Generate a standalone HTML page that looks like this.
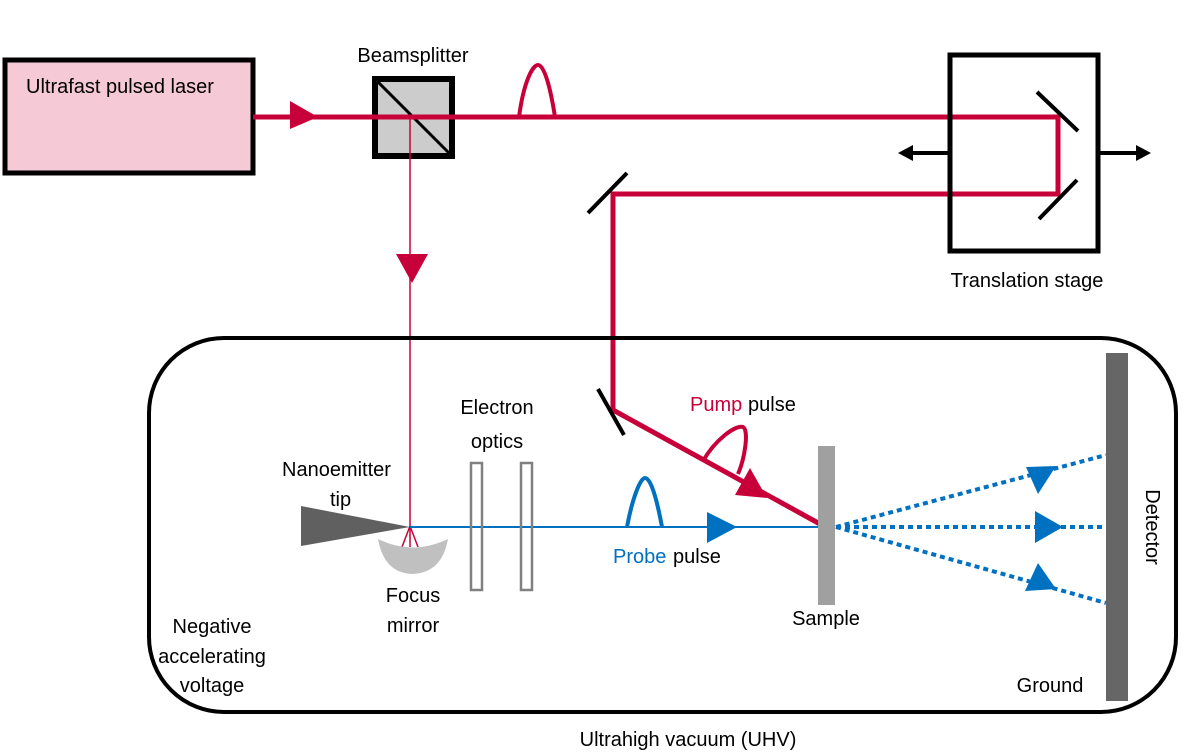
<!DOCTYPE html>
<html><head><meta charset="utf-8"><style>
html,body{margin:0;padding:0;background:#fff;}
svg{display:block;}
text{font-family:"Liberation Sans",sans-serif;font-size:20px;fill:#000;}
</style></head><body>
<svg width="1185" height="753" viewBox="0 0 1185 753" xmlns="http://www.w3.org/2000/svg">
<rect x="5" y="60" width="248" height="113" fill="#F5C9D6" stroke="#000" stroke-width="5"/>
<text x="26" y="93">Ultrafast pulsed laser</text>
<text x="413" y="62" text-anchor="middle">Beamsplitter</text>
<rect x="375" y="79" width="77" height="77" fill="#CCCCCC" stroke="#000" stroke-width="6"/>
<line x1="378" y1="82" x2="449" y2="153" stroke="#000" stroke-width="3"/>
<polyline points="253,117 1058,117 1058,194 613,194 613,410 820,524" fill="none" stroke="#C8003A" stroke-width="5"/>
<polygon points="290,101 290,129 318,117" fill="#C8003A"/>
<path d="M519,117 C524,80 533,65 538,65 C544,65 550,85 555,117" fill="none" stroke="#C8003A" stroke-width="4"/>
<line x1="410" y1="117" x2="410" y2="526" stroke="#C8003A" stroke-width="1.5"/>
<polygon points="396,254 428,254 412,283" fill="#C8003A"/>
<line x1="410" y1="526" x2="402" y2="547" stroke="#C8003A" stroke-width="1.5"/>
<line x1="410" y1="526" x2="418" y2="547" stroke="#C8003A" stroke-width="1.5"/>
<line x1="410" y1="526" x2="410" y2="547" stroke="#C8003A" stroke-width="1.5"/>
<rect x="950" y="55" width="148" height="196" fill="none" stroke="#000" stroke-width="5"/>
<line x1="1037" y1="92" x2="1078" y2="131" stroke="#000" stroke-width="4"/>
<line x1="1077" y1="180" x2="1039" y2="219" stroke="#000" stroke-width="4"/>
<line x1="948" y1="153" x2="910" y2="153" stroke="#000" stroke-width="4"/>
<polygon points="898,153 913,145 913,161" fill="#000"/>
<line x1="1100" y1="153" x2="1140" y2="153" stroke="#000" stroke-width="4"/>
<polygon points="1151,153 1136,145 1136,161" fill="#000"/>
<text x="1027" y="287" text-anchor="middle">Translation stage</text>
<line x1="627" y1="173" x2="588" y2="213" stroke="#000" stroke-width="4"/>
<rect x="149" y="338" width="1027" height="374" rx="75" ry="75" fill="none" stroke="#000" stroke-width="4"/>
<line x1="598" y1="389" x2="624" y2="435" stroke="#000" stroke-width="4"/>
<text x="690" y="411" style="fill:#C8003A">Pump</text><text x="748" y="411">pulse</text>
<path d="M703,461 C715,440 735,425 743,427 C749,430 745,458 738,474" fill="none" stroke="#C8003A" stroke-width="4"/>
<polygon points="735,495 750,468 767,498" fill="#C8003A"/>
<text x="282" y="476">Nanoemitter</text>
<text x="330" y="506">tip</text>
<polygon points="301,506 301,546 410,527" fill="#606060"/>
<path d="M378,539 Q412,556 448,539 Q442,573 412,574 Q384,573 378,539 Z" fill="#C0C0C0"/>
<text x="413" y="602" text-anchor="middle">Focus</text>
<text x="413" y="632" text-anchor="middle">mirror</text>
<text x="497" y="414" text-anchor="middle">Electron</text>
<text x="497" y="448" text-anchor="middle">optics</text>
<line x1="410" y1="527" x2="818" y2="527" stroke="#0070C0" stroke-width="2"/>
<rect x="471" y="463" width="11" height="127" fill="none" stroke="#808080" stroke-width="2.5"/>
<rect x="521" y="463" width="11" height="127" fill="none" stroke="#808080" stroke-width="2.5"/>
<path d="M627,527 C632,500 640,478 645,478 C651,478 657,500 662,527" fill="none" stroke="#0070C0" stroke-width="4"/>
<polygon points="707,512 707,543 737,527" fill="#0070C0"/>
<text x="613" y="563" style="fill:#0070C0">Probe</text><text x="673" y="563">pulse</text>
<rect x="818" y="446" width="17" height="159" fill="#A0A0A0"/>
<text x="826" y="625" text-anchor="middle">Sample</text>
<g stroke="#0070C0" stroke-width="4" stroke-dasharray="5,4" fill="none">
<line x1="836" y1="527" x2="1106" y2="455"/>
<line x1="836" y1="527" x2="1106" y2="527"/>
<line x1="836" y1="527" x2="1106" y2="603"/>
</g>
<polygon points="1026,467 1056,466 1038,494" fill="#0070C0"/>
<polygon points="1035,511 1035,543 1063,527" fill="#0070C0"/>
<polygon points="1038,563 1056,589 1025,591" fill="#0070C0"/>
<rect x="1106" y="353" width="22" height="348" fill="#666"/>
<text transform="translate(1146,527) rotate(90)" text-anchor="middle">Detector</text>
<text x="1050" y="692" text-anchor="middle">Ground</text>
<text x="212" y="633" text-anchor="middle">Negative</text>
<text x="212" y="663" text-anchor="middle">accelerating</text>
<text x="212" y="692" text-anchor="middle">voltage</text>
<text x="688" y="746" text-anchor="middle">Ultrahigh vacuum (UHV)</text>
</svg>
</body></html>
